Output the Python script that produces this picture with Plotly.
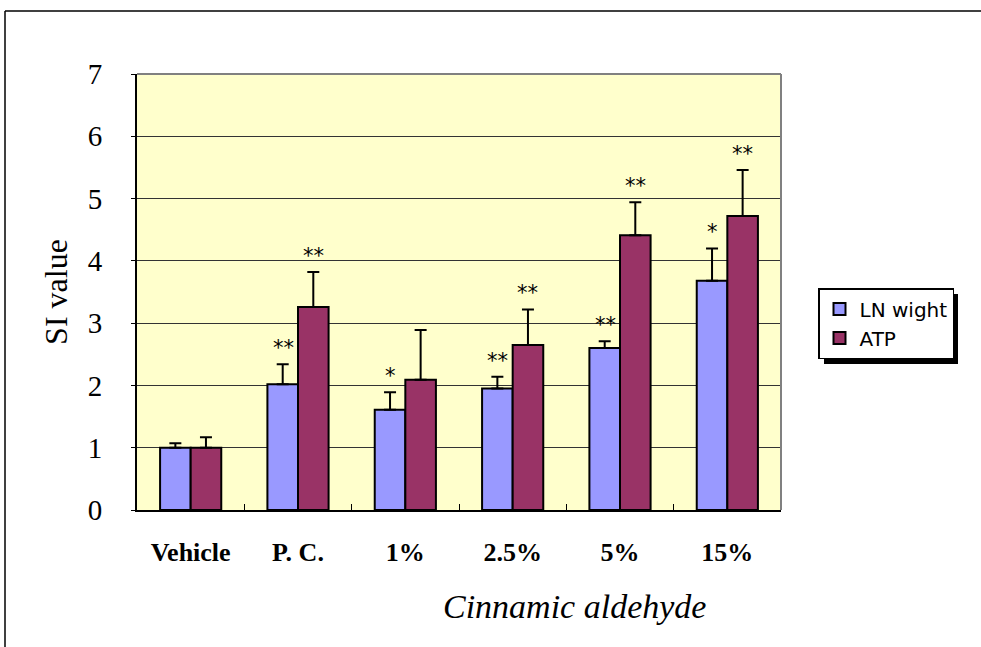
import plotly.graph_objects as go

categories = ["Vehicle", "P. C.", "1%", "2.5%", "5%", "15%"]
ln_values = [1.00, 2.02, 1.61, 1.95, 2.60, 3.68]
ln_errors = [0.07, 0.32, 0.28, 0.19, 0.11, 0.52]
atp_values = [1.00, 3.26, 2.09, 2.65, 4.41, 4.72]
atp_errors = [0.17, 0.56, 0.80, 0.57, 0.53, 0.74]
ln_marks = ["", "**", "*", "**", "**", "*"]
atp_marks = ["", "**", "", "**", "**", "**"]
y_ticks = [0, 1, 2, 3, 4, 5, 6, 7]

L, R, T, B = 137, 781, 74, 510
W, H = 981, 647
def px(x):
    return (x - L) / (R - L)
def py(y):
    return (B - y) / (B - T)

fig = go.Figure()
fig.add_trace(go.Bar(
    name="LN wight", x=categories, y=ln_values, legendgroup="a",
    marker=dict(color="#9999FF", line=dict(color="black", width=2)),
    error_y=dict(type="data", symmetric=False, array=ln_errors,
                 arrayminus=[0]*len(ln_errors), color="black", thickness=2, width=6),
))
fig.add_trace(go.Bar(
    name="ATP", x=categories, y=atp_values, legendgroup="b",
    marker=dict(color="#993366", line=dict(color="black", width=2)),
    error_y=dict(type="data", symmetric=False, array=atp_errors,
                 arrayminus=[0]*len(atp_errors), color="black", thickness=2, width=6),
))

annotations = []
for i, c in enumerate(categories):
    if ln_marks[i]:
        annotations.append(dict(x=c, y=ln_values[i] + ln_errors[i], xref="x", yref="y",
                                text=ln_marks[i], showarrow=False, xshift=-15, yshift=2,
                                yanchor="bottom",
                                font=dict(family="DejaVu Sans", size=21, color="black")))
    if atp_marks[i]:
        annotations.append(dict(x=c, y=atp_values[i] + atp_errors[i], xref="x", yref="y",
                                text=atp_marks[i], showarrow=False, xshift=15, yshift=2,
                                yanchor="bottom",
                                font=dict(family="DejaVu Sans", size=21, color="black")))

annotations.append(dict(x=px(574), y=py(606), xref="paper", yref="paper",
                        text="<i>Cinnamic aldehyde</i>",
                        showarrow=False, xanchor="center", yanchor="middle",
                        font=dict(family="Liberation Serif", size=34, color="black")))

shapes = [
    # outer frame lines
    dict(type="line", xref="paper", yref="paper", x0=px(5), x1=px(5), y0=py(11), y1=py(660),
         line=dict(color="black", width=1.5)),
    dict(type="line", xref="paper", yref="paper", x0=px(5), x1=px(1000), y0=py(11), y1=py(11),
         line=dict(color="black", width=1.5)),
    # plot area top/right grey border
    dict(type="line", xref="paper", yref="paper", x0=0, x1=1, y0=1, y1=1,
         line=dict(color="#808080", width=2)),
    dict(type="line", xref="paper", yref="paper", x0=1, x1=1, y0=0, y1=1,
         line=dict(color="#808080", width=2)),
    # legend shadow
    dict(type="rect", xref="paper", yref="paper", x0=px(824), x1=px(958), y0=py(294), y1=py(364),
         fillcolor="black", line=dict(width=0)),
]

fig.update_layout(
    width=W, height=H,
    margin=dict(l=L, r=W - R, t=T, b=H - B),
    paper_bgcolor="white", plot_bgcolor="#FFFFCC",
    barmode="group", bargap=0.43, bargroupgap=0.0,
    font=dict(family="Liberation Serif", color="black"),
    showlegend=True,
    legend=dict(x=px(818), y=py(288), xanchor="left", yanchor="top",
                bgcolor="white", bordercolor="black", borderwidth=1.5,
                font=dict(family="DejaVu Sans", size=20, color="black"),
                tracegroupgap=0, itemwidth=30),
    annotations=annotations,
    shapes=shapes,
    xaxis=dict(showline=True, linecolor="black", linewidth=2,
               ticks="inside", tickson="boundaries", ticklen=6, tickcolor="black",
               tickfont=dict(family="Liberation Serif", size=26, color="black", weight="bold"),
               ticklabelstandoff=18, showgrid=False),
    yaxis=dict(range=[0, 7], tickvals=y_ticks, showline=True, linecolor="black", linewidth=2,
               ticks="outside", ticklen=4, tickcolor="black",
               tickfont=dict(family="Liberation Serif", size=29, color="black"),
               ticklabelstandoff=23,
               showgrid=True, gridcolor="#333333", gridwidth=1, zeroline=False,
               title=dict(text="SI value", standoff=11,
                          font=dict(family="Liberation Serif", size=32, color="black"))),
)

fig.write_html("out.html", config={"displayModeBar": False},
               post_script="document.body.style.margin='0px';")
